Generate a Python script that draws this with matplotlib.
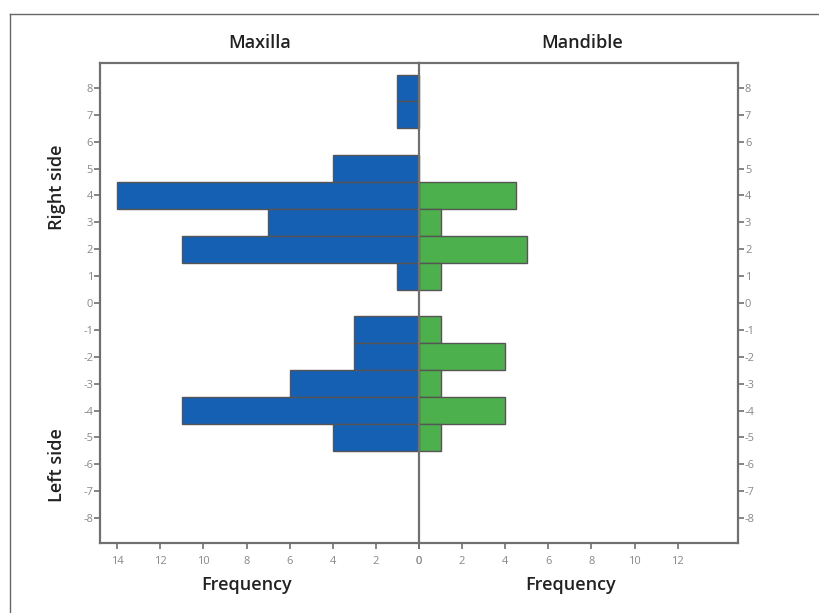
import numpy as np
import matplotlib.pyplot as plt
from matplotlib.lines import Line2D

# tooth position (negative = left side, positive = right side)
positions = [8, 7, 5, 4, 3, 2, 1, -1, -2, -3, -4, -5]
maxilla = [1, 1, 4, 14, 7, 11, 1, 3, 3, 6, 11, 4]
mandible = [0, 0, 0, 4.5, 1, 5, 1, 1, 4, 1, 4, 1]

y_ticks = list(range(-8, 9))
left_xticks = [0, 2, 4, 6, 8, 10, 12, 14]
right_xticks = [0, 2, 4, 6, 8, 10, 12]

blue = '#1560b2'
green = '#4cb04c'
edge = '#555555'
spine_c = '#707070'
tick_c = '#888888'

plt.rcParams['font.family'] = ['Open Sans', 'DejaVu Sans']
plt.rcParams['axes.unicode_minus'] = False

fig = plt.figure(figsize=(8.19, 6.13), dpi=100)
W, H = 819, 613

def px_ax(x0, x1, y0, y1):
    return fig.add_axes([x0 / W, 1 - y1 / H, (x1 - x0) / W, (y1 - y0) / H])

ax_l = px_ax(100, 419, 63, 543)
ax_r = px_ax(419, 738, 63, 543)

ax_l.barh(positions, maxilla, height=1.0, color=blue, edgecolor=edge, linewidth=1)
ax_r.barh(positions, mandible, height=1.0, color=green, edgecolor=edge, linewidth=1)

for ax in (ax_l, ax_r):
    ax.set_ylim(-8.93, 8.93)
    ax.set_yticks(y_ticks)
    for s in ax.spines.values():
        s.set_color(spine_c)
        s.set_linewidth(1.6)
    ax.tick_params(colors=tick_c, labelsize=8, length=4, width=1.2, direction='out')
    ax.tick_params(axis='both', color=spine_c)

ax_l.set_xlim(14.8, 0)
ax_r.set_xlim(0, 14.8)
ax_l.set_xticks(left_xticks)
ax_r.set_xticks(right_xticks)
ax_l.spines['right'].set_visible(False)
ax_r.yaxis.tick_right()
ax_r.tick_params(axis='y', which='both', left=False)
ax_l.tick_params(axis='y', pad=1)
ax_r.tick_params(axis='y', pad=1)
ax_l.tick_params(axis='x', pad=5)
ax_r.tick_params(axis='x', pad=5)

tfont = dict(fontsize=13, fontweight='semibold', color='#222222')
ax_l.set_title('Maxilla', pad=11, **tfont)
ax_r.set_title('Mandible', pad=11, x=0.51, **tfont)
fig.text(247 / W, 1 - 585 / H, 'Frequency', ha='center', va='center', **tfont)
fig.text(571 / W, 1 - 585 / H, 'Frequency', ha='center', va='center', **tfont)
fig.text(57 / W, 1 - 187 / H, 'Right side', rotation=90, ha='center', va='center', **tfont)
fig.text(57 / W, 1 - 465 / H, 'Left side', rotation=90, ha='center', va='center', **tfont)

# outer frame (top and left edges only visible)
fig.add_artist(Line2D([10 / W, 1], [1 - 14 / H, 1 - 14 / H], color='#666666', lw=1, transform=fig.transFigure))
fig.add_artist(Line2D([10 / W, 10 / W], [1 - 14 / H, 0], color='#666666', lw=1, transform=fig.transFigure))

fig.savefig('out.png', dpi=100)
